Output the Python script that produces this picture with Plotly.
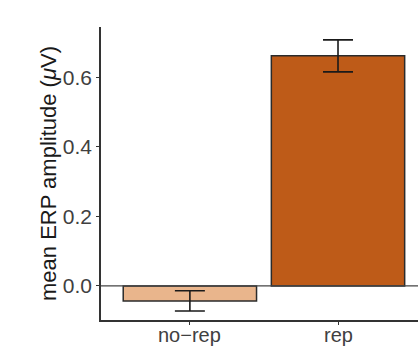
import plotly.graph_objects as go

categories = ["no−rep", "rep"]
means = [-0.043, 0.662]
errors = [0.029, 0.046]
colors = ["#E9B58C", "#BE5B18"]
y_ticks = [0.0, 0.2, 0.4, 0.6]

fig = go.Figure()
fig.add_trace(go.Bar(
    x=categories, y=means, width=0.9,
    marker=dict(color=colors, line=dict(color="#2b2b2b", width=1.5)),
    error_y=dict(type="data", array=errors, visible=True, color="#1a1a1a",
                 thickness=1.6, width=15),
))
fig.add_hline(y=0, line=dict(color="#444444", width=1.3), layer="above")

for c in categories:
    fig.add_annotation(x=c, xref="x", y=0, yref="paper", yanchor="top",
                       text=c, showarrow=False, yshift=-2,
                       font=dict(size=20, color="#404040"))

fig.update_layout(
    width=418, height=358,
    margin=dict(l=101, r=0, t=27, b=38),
    paper_bgcolor="white", plot_bgcolor="white",
    showlegend=False,
    font=dict(family="Liberation Sans, Arial, sans-serif", color="#404040", size=20),
)
fig.update_xaxes(
    range=[-0.6, 1.54], showline=True, linecolor="#333333", linewidth=1.5,
    ticks="outside", ticklen=3, tickcolor="#333333", tickwidth=1.2,
    showticklabels=False, showgrid=False, zeroline=False,
)
fig.update_yaxes(
    range=[-0.098, 0.745], showline=True, linecolor="#333333", linewidth=1.5,
    ticks="outside", ticklen=3, tickcolor="#333333", tickwidth=1.2,
    tickvals=y_ticks, ticktext=[f"{v:.1f}" for v in y_ticks],
    showgrid=False, zeroline=False, tickfont=dict(size=21, color="#404040"),
    title=dict(text="mean ERP amplitude (<i>μ</i>V)", font=dict(size=22, color="#1a1a1a"), standoff=0),
)

fig.write_html("out.html")
